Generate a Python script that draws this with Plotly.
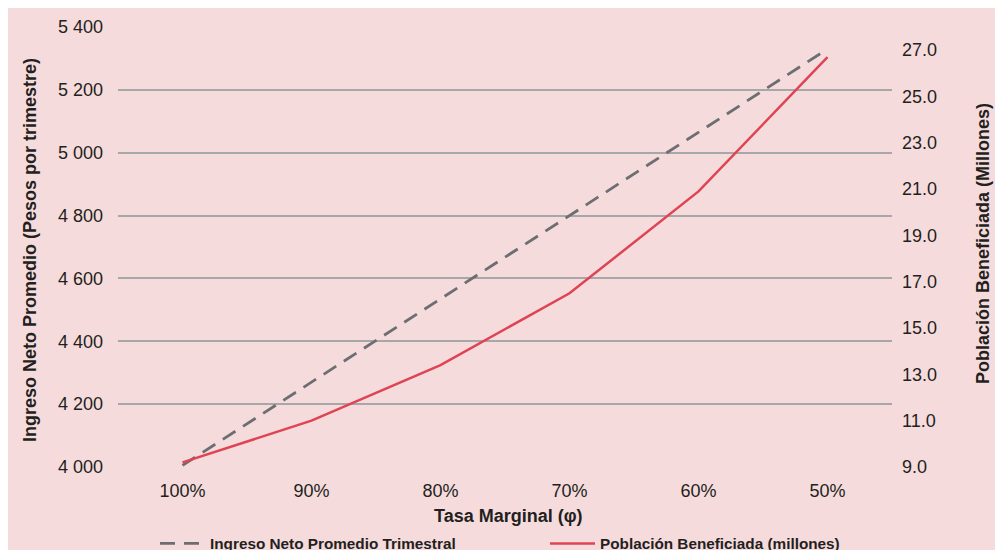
import plotly.graph_objects as go

categories = ["100%", "90%", "80%", "70%", "60%", "50%"]
ingreso = [4005, 4270, 4535, 4800, 5065, 5330]
poblacion = [9.2, 11.0, 13.4, 16.5, 20.9, 26.7]
left_ticks = [4000, 4200, 4400, 4600, 4800, 5000, 5200, 5400]
left_ticktext = ["4 000", "4 200", "4 400", "4 600", "4 800", "5 000", "5 200", "5 400"]
right_ticks = [9, 11, 13, 15, 17, 19, 21, 23, 25, 27]
right_ticktext = ["9.0", "11.0", "13.0", "15.0", "17.0", "19.0", "21.0", "23.0", "25.0", "27.0"]

W, H = 1003, 550
L, T = 110, 19
pw, ph = 774, 440
R, B = W - L - pw, H - T - ph

def px(x):
    return (x - L) / pw

def py(y):
    return (H - B - y) / ph

PINK = "#F6DBDD"
TXT = "#231F20"
SANS = "Liberation Sans, Arial, sans-serif"
TICKFONT = dict(family=SANS, size=18, color=TXT)
TITLEFONT = dict(family=SANS, size=18, color=TXT)
LEGFONT = dict(family=SANS, size=15.3, color=TXT)

fig = go.Figure()
fig.add_trace(go.Scatter(x=categories, y=ingreso, name="<b>Ingreso Neto Promedio Trimestral</b>",
                         mode="lines", line=dict(color="#6D6E71", width=2.8, dash="15px,9px"),
                         yaxis="y", legend="legend"))
fig.add_trace(go.Scatter(x=categories, y=poblacion, name="<b>Población Beneficiada (millones)</b>",
                         mode="lines", line=dict(color="#DE4453", width=2.5),
                         yaxis="y2", legend="legend2"))

leg_common = dict(orientation="h", xanchor="left", yanchor="top", font=LEGFONT,
                  bgcolor="rgba(0,0,0,0)", itemwidth=45)

fig.update_layout(
    width=W, height=H,
    margin=dict(l=L, r=R, t=T, b=B, autoexpand=False),
    paper_bgcolor=PINK,
    plot_bgcolor=PINK,
    showlegend=True,
    xaxis=dict(type="category", range=[-0.5, 5.5], showgrid=False, zeroline=False,
               showline=False, ticks="", tickfont=TICKFONT, ticklabelstandoff=11),
    yaxis=dict(range=[4000, 5400], tickvals=left_ticks, ticktext=left_ticktext,
               showgrid=True, gridcolor="#A7A7A9", gridwidth=1.5, zeroline=False,
               showline=False, ticks="", tickfont=TICKFONT, ticklabelstandoff=14),
    yaxis2=dict(range=[9, 28], tickvals=right_ticks, ticktext=right_ticktext,
                overlaying="y", side="right", showgrid=False, zeroline=False,
                showline=False, ticks="", tickfont=TICKFONT, ticklabelstandoff=9),
    legend=dict(x=px(147), y=py(519), **leg_common),
    legend2=dict(x=px(537), y=py(519), **leg_common),
    annotations=[
        dict(text="<b>Ingreso Neto Promedio (Pesos por trimestre)</b>", xref="paper", yref="paper",
             x=px(22), y=0.493, textangle=-90, showarrow=False, font=TITLEFONT,
             xanchor="center", yanchor="middle"),
        dict(text="<b>Población Beneficiada (Millones)</b>", xref="paper", yref="paper",
             x=px(975), y=0.509, textangle=-90, showarrow=False, font=TITLEFONT,
             xanchor="center", yanchor="middle"),
        dict(text="<b>Tasa Marginal (φ)</b>", xref="paper", yref="paper",
             x=px(500), y=py(508), showarrow=False, font=TITLEFONT,
             xanchor="center", yanchor="middle"),
    ],
)

fig.write_html("out.html")
